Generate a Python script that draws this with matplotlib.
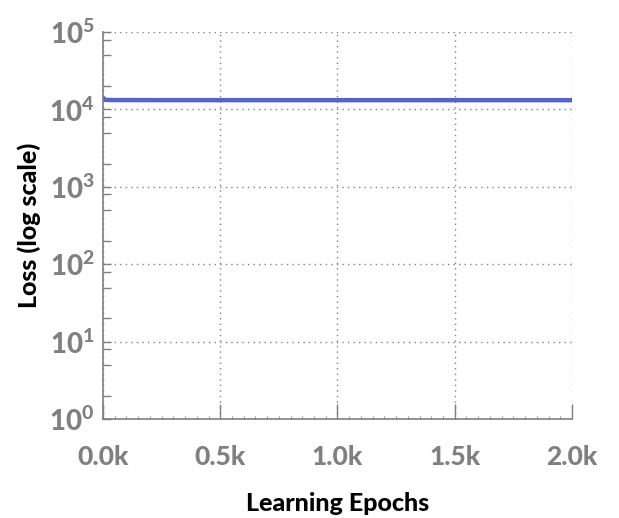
import math
import matplotlib.pyplot as plt
from matplotlib.ticker import FixedLocator, FuncFormatter, LogLocator, NullFormatter

plt.rcParams['font.family'] = ['Lato', 'DejaVu Sans']
plt.rcParams['mathtext.fontset'] = 'custom'
plt.rcParams['mathtext.rm'] = 'Lato:black'
plt.rcParams['mathtext.bf'] = 'Lato:black'

# Datos
epochs = [0, 5, 10, 25, 50, 100, 250, 500, 750, 1000, 1250, 1500, 1750, 2000]
loss = [14200, 13500, 13300, 13250, 13200, 13200, 13180, 13180, 13170, 13170, 13170, 13170, 13170, 13170]
x_ticks = [0, 500, 1000, 1500, 2000]
x_labels = ['0.0k', '0.5k', '1.0k', '1.5k', '2.0k']

fig = plt.figure(figsize=(6.19, 5.18), dpi=100)
ax = fig.add_axes([0.1664, 0.1911, 0.7576, 0.7471])

ax.plot(epochs, loss, color='#5562d2', linewidth=3.2, solid_capstyle='round')
ax.set_yscale('log')
ax.set_xlim(0, 2000)
ax.set_ylim(1, 1e5)

ax.xaxis.set_major_locator(FixedLocator(x_ticks))
ax.set_xticklabels(x_labels)
ax.xaxis.set_minor_locator(FixedLocator(list(range(0, 2001, 50))))
ax.yaxis.set_major_locator(LogLocator(base=10, numticks=10))
ax.yaxis.set_minor_locator(LogLocator(base=10, subs=[2, 5, 8], numticks=10))
ax.yaxis.set_minor_formatter(NullFormatter())
ax.yaxis.set_major_formatter(FuncFormatter(lambda v, p: r'$\mathbf{10^{%d}}$' % round(math.log10(v))))

gray = '#808080'
ax.grid(True, which='major', linestyle=(0, (1, 3)), color=gray, linewidth=1)
for s in ['top', 'right']:
    ax.spines[s].set_visible(False)
for s in ['left', 'bottom']:
    ax.spines[s].set_color(gray)
    ax.spines[s].set_linewidth(1.2)

ax.tick_params(axis='y', which='both', direction='in', length=6, color=gray, width=1,
               labelcolor=gray, labelsize=20, pad=6)
ax.tick_params(axis='x', which='major', direction='in', length=11, color=gray, width=1,
               labelcolor=gray, labelsize=19, pad=19)
ax.tick_params(axis='x', which='minor', direction='in', length=2, color=gray, width=0.6)
for lab in ax.get_xticklabels():
    lab.set_fontweight('black')

ax.set_xlabel('Learning Epochs', fontsize=18, fontweight='black', labelpad=16)
ax.set_ylabel('Loss (log scale)', fontsize=18, fontweight='black', labelpad=6)

fig.savefig('out.png', dpi=100)
